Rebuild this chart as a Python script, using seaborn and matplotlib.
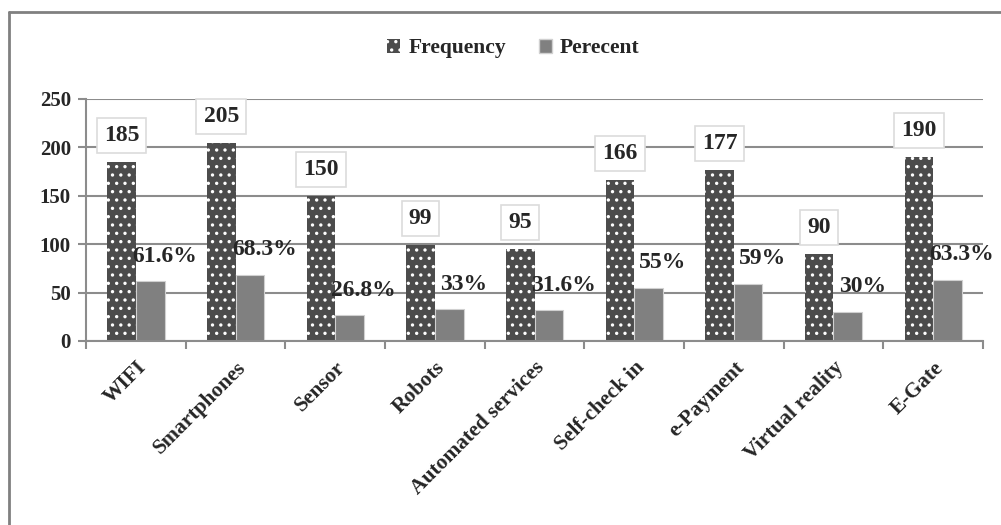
import matplotlib
matplotlib.use("Agg")
import matplotlib.pyplot as plt
import matplotlib.lines as mlines
from matplotlib.patches import Patch
import seaborn as sns
import pandas as pd
import numpy as np

categories = ["WIFI", "Smartphones", "Sensor", "Robots", "Automated services",
              "Self-check in", "e-Payment", "Virtual reality", "E-Gate"]
frequency = [185, 205, 150, 99, 95, 166, 177, 90, 190]
percent = [61.6, 68.3, 26.8, 33, 31.6, 55, 59, 30, 63.3]
percent_labels = ["61.6%", "68.3%", "26.8%", "33%", "31.6%", "55%", "59%", "30%", "63.3%"]
series_names = ["Frequency", "Perecent"]

df = pd.DataFrame({
    "item": categories * 2,
    "series": [series_names[0]] * len(categories) + [series_names[1]] * len(categories),
    "value": frequency + percent,
})

sns.set_style("white")
plt.rcParams["font.family"] = ["Liberation Serif", "DejaVu Serif"]
plt.rcParams["font.weight"] = "bold"
plt.rcParams["hatch.linewidth"] = 1.2

fig = plt.figure(figsize=(10.01, 5.25), dpi=100)
ax = fig.add_axes([0.086, 0.3505, 0.896, 0.461])

freq_color = "#4c4c4c"
pct_color = "#808080"
sns.barplot(data=df, x="item", y="value", hue="series", order=categories,
            hue_order=series_names, palette=[freq_color, pct_color],
            width=0.575, dodge=True, ax=ax, legend=False, saturation=1)

freq_bars = ax.containers[0]
pct_bars = ax.containers[1]
for p in freq_bars:
    p.set_hatch("..")
    p.set_edgecolor("white")
    p.set_linewidth(0)
for p in pct_bars:
    p.set_edgecolor("#d0d0d0")
    p.set_linewidth(0.8)

ax.set_ylim(0, 250)
ax.set_xlim(-0.5, len(categories) - 0.5)
ax.set_yticks(np.arange(0, 251, 50))
ax.yaxis.grid(True, color="#8c8c8c", linewidth=1.5)
ax.set_axisbelow(True)
ax.set_xlabel("")
ax.set_ylabel("")

for side in ["top", "right"]:
    ax.spines[side].set_visible(False)
for side in ["left", "bottom"]:
    ax.spines[side].set_color("#8c8c8c")
    ax.spines[side].set_linewidth(1.5)

ax.tick_params(axis="y", which="major", length=6, width=1.5, color="#8c8c8c",
               labelsize=15, pad=5, left=True)
ax.set_xticks(np.arange(len(categories)))
ax.set_xticks(np.arange(-0.5, len(categories)), minor=True)
ax.tick_params(axis="x", which="major", length=0, pad=12)
ax.tick_params(axis="x", which="minor", length=6, width=1.5, color="#8c8c8c", bottom=True)
ax.set_xticklabels(categories, rotation=45, ha="right", rotation_mode="anchor",
                   fontsize=15.5, fontweight="bold")
for lab in ax.get_yticklabels():
    lab.set_fontweight("bold")

# value labels
for p, v in zip(freq_bars, frequency):
    cx = p.get_x() + p.get_width() / 2
    ax.annotate(str(v), (cx, v), xytext=(0, 19), textcoords="offset points",
                ha="center", va="center", fontsize=17, fontweight="bold",
                bbox=dict(boxstyle="square,pad=0.3", facecolor="white",
                          edgecolor="#dcdcdc", linewidth=1.2), zorder=5)
for p, v, t in zip(pct_bars, percent, percent_labels):
    rx = p.get_x() + p.get_width()
    ax.annotate(t, (rx, v), xytext=(0, 18), textcoords="offset points",
                ha="center", va="center", fontsize=17, fontweight="bold", zorder=6)

# legend
handles = [Patch(facecolor=freq_color, hatch="..", edgecolor="white", linewidth=0),
           Patch(facecolor=pct_color, edgecolor="#d0d0d0")]
fig.legend(handles, series_names, loc="center", bbox_to_anchor=(0.513, 0.908),
           ncol=2, frameon=False, prop={"weight": "bold", "size": 15.5},
           handlelength=0.6, handleheight=0.6, handletextpad=0.4, columnspacing=1.5)

# outer chart frame
fig.add_artist(mlines.Line2D([8.5 / 1001, 8.5 / 1001], [0, 1 - 11.5 / 525],
                             color="#808080", linewidth=2, transform=fig.transFigure))
fig.add_artist(mlines.Line2D([8.5 / 1001, 1.0], [1 - 11.5 / 525, 1 - 11.5 / 525],
                             color="#808080", linewidth=2, transform=fig.transFigure))

fig.savefig("out.png", dpi=100)
